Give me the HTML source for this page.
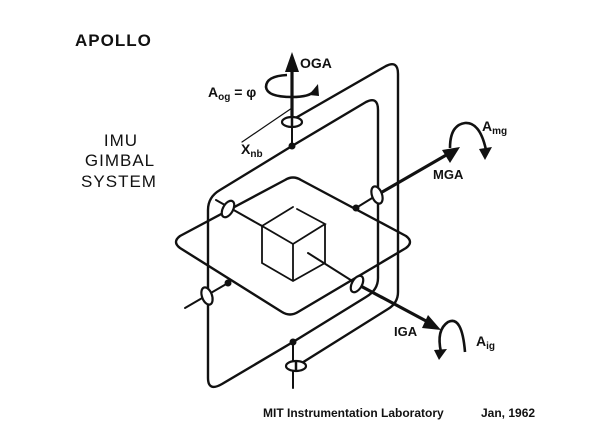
<!DOCTYPE html>
<html><head><meta charset="utf-8"><style>
html,body{margin:0;padding:0;background:#fff;}
svg{display:block;}
text{font-family:"Liberation Sans",sans-serif;font-weight:bold;fill:#111;}
</style></head><body>
<svg width="600" height="436" viewBox="0 0 600 436" xmlns="http://www.w3.org/2000/svg">
<rect width="600" height="436" fill="#fff"/>
<g fill="none" stroke="#111" stroke-width="2.4" stroke-linejoin="round" stroke-linecap="round">
<path d="M208,210 Q208,197 220,190 L292,146 L366,102 Q378,96 378,110 L378,278 Q378,290 366,297 L293,342 L222,384 Q208,392 208,378 Z"/>
<path d="M292,120 L386,66 Q398,60 398,74 L398,292 Q398,303 388,309 L297,366"/>
<path d="M180,236 L285,180 Q293,175 301,180 L406,236 Q414,242 406,248 L298,312 Q290,317 282,312 L180,248 Q172,242 180,236 Z"/>
</g>
<g fill="none" stroke="#111" stroke-width="1.8" stroke-linecap="round">
<path d="M262,226 L293,207 M297,209 L325,224 L293,244 L262,226 L262,263 L293,281 L325,263 L325,224 M293,244 L293,281"/>
</g>
<g fill="none" stroke="#111" stroke-width="2" stroke-linecap="round">
<path d="M216,200 L262,226"/>
<path d="M308,253 L357,284"/>
<path d="M185,308 L228,283"/>
<path d="M356,208 L377,195"/>
<path d="M292,146 L292,120"/>
<path d="M293,342 L293,388"/>
<path d="M242,142 L292,108" stroke-width="1.2"/>
</g>
<g fill="none" stroke="#111" stroke-width="3.2" stroke-linecap="butt">
<path d="M292,120 L292,68"/>
<path d="M377,195 L448,154"/>
<path d="M357,284 L428,322"/>
</g>
<g fill="#111">
<polygon points="292,52 285,72 299,72"/>
<polygon points="460,147 442,150 450,163"/>
<polygon points="441,330 428,315 422,328"/>
</g>
<g fill="#fff" stroke="#111" stroke-width="2.2">
<ellipse cx="292" cy="122" rx="10" ry="5"/>
<ellipse cx="296" cy="366" rx="10" ry="5"/>
<ellipse cx="228" cy="209" rx="5" ry="9" transform="rotate(30 228 209)"/>
<ellipse cx="357" cy="284" rx="5" ry="9" transform="rotate(30 357 284)"/>
<ellipse cx="377" cy="195" rx="5" ry="9" transform="rotate(-20 377 195)"/>
<ellipse cx="207" cy="296" rx="5" ry="9" transform="rotate(-20 207 296)"/>
</g>
<line x1="292" y1="116" x2="292" y2="128" stroke="#111" stroke-width="2.5"/>
<line x1="296" y1="360" x2="296" y2="372" stroke="#111" stroke-width="2.5"/>
<g fill="#111">
<circle cx="292" cy="146" r="3.5"/><circle cx="293" cy="342" r="3.5"/>
<circle cx="228" cy="283" r="3.5"/><circle cx="356" cy="208" r="3.5"/>
</g>
<g fill="none" stroke="#111" stroke-width="2.6">
<path d="M287,75 Q266,76 266,87 Q267,97 292,97 Q310,97 314,91"/>
<path d="M450,148 Q450,125 465,123 Q480,122 486,150"/>
<path d="M465,352 Q462,315 448,322 Q436,330 441,352"/>
</g>
<g fill="#111">
<polygon points="318,84 309,95 319,96"/>
<polygon points="479,149 492,147 485,160"/>
<polygon points="434,350 447,349 439,360"/>
</g>
<text x="75" y="46" font-size="17" letter-spacing="1">APOLLO</text>
<g font-size="17" text-anchor="middle" letter-spacing="1">
<text x="121" y="146" style="font-weight:normal">IMU</text>
<text x="120" y="166" style="font-weight:normal">GIMBAL</text>
<text x="119" y="187" style="font-weight:normal">SYSTEM</text>
</g>
<text x="300" y="68" font-size="14">OGA</text>
<text x="208" y="97" font-size="14">A<tspan font-size="10" dy="3">og</tspan><tspan dy="-3"> = φ</tspan></text>
<text x="241" y="154" font-size="14">X<tspan font-size="10" dy="3">nb</tspan></text>
<text x="433" y="179" font-size="13">MGA</text>
<text x="482" y="131" font-size="14">A<tspan font-size="10" dy="3">mg</tspan></text>
<text x="394" y="336" font-size="13">IGA</text>
<text x="476" y="346" font-size="14">A<tspan font-size="10" dy="3">ig</tspan></text>
<text x="263" y="417" font-size="12">MIT  Instrumentation Laboratory</text>
<text x="481" y="417" font-size="12">Jan, 1962</text>
</svg>
</body></html>
